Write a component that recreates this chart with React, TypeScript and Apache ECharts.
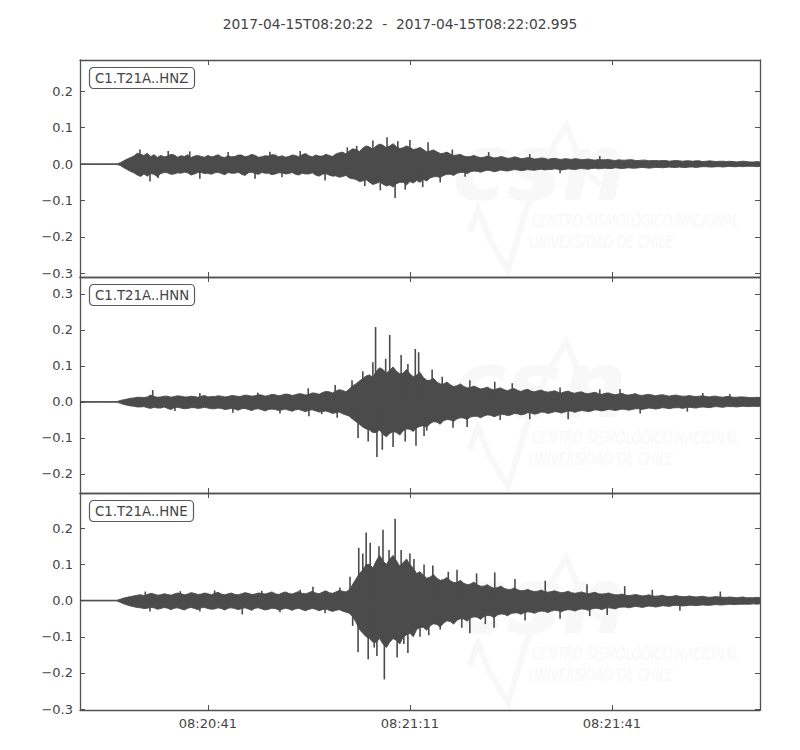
import React, { useEffect, useRef } from "react";
import * as echarts from "echarts";

const TITLE = "2017-04-15T08:20:22  -  2017-04-15T08:22:02.995";
const START_SEC = 8 * 3600 + 20 * 60 + 22;
const DURATION = 100.995;
const SAMPLE_STEP = 0.5; // seconds between envelope readings
const TRACE_NAMES = ["C1.T21A..HNZ", "C1.T21A..HNN", "C1.T21A..HNE"];
const X_TICKS = [19, 49, 79];
const Y_TICKS = [
  [-0.3, -0.2, -0.1, 0, 0.1, 0.2],
  [-0.2, -0.1, 0, 0.1, 0.2, 0.3],
  [-0.3, -0.2, -0.1, 0, 0.1, 0.2],
];
const Y_RANGES = [
  [-0.31, 0.286],
  [-0.253, 0.347],
  [-0.3025, 0.2975],
];

// Envelope of each trace, one reading every 0.5 s from the start (upper / lower edge)
const HNZ_UP = [
  0.001, 0.001, 0.001, 0.001, 0.001, 0.001, 0.001, 0.001, 0.001, 0.001, 0.001, 0.001, 0.004, 0.009, 0.014, 0.018, 0.022, 0.03, 0.027, 0.024,
  0.03, 0.021, 0.026, 0.018, 0.024, 0.02, 0.022, 0.027, 0.025, 0.019, 0.023, 0.021, 0.026, 0.018, 0.022, 0.024, 0.021, 0.019, 0.024, 0.02,
  0.022, 0.026, 0.02, 0.018, 0.023, 0.02, 0.021, 0.025, 0.025, 0.02, 0.022, 0.027, 0.024, 0.019, 0.02, 0.023, 0.022, 0.026, 0.025, 0.02,
  0.023, 0.019, 0.021, 0.025, 0.024, 0.02, 0.026, 0.029, 0.023, 0.02, 0.025, 0.022, 0.022, 0.027, 0.024, 0.021, 0.028, 0.031, 0.033, 0.028,
  0.036, 0.042, 0.04, 0.035, 0.044, 0.05, 0.047, 0.041, 0.05, 0.055, 0.052, 0.045, 0.05, 0.056, 0.048, 0.043, 0.045, 0.05, 0.046, 0.04,
  0.042, 0.046, 0.04, 0.034, 0.036, 0.039, 0.034, 0.029, 0.03, 0.033, 0.028, 0.024, 0.025, 0.027, 0.022, 0.02, 0.021, 0.024, 0.02, 0.018,
  0.019, 0.022, 0.02, 0.017, 0.018, 0.021, 0.019, 0.016, 0.017, 0.02, 0.018, 0.015, 0.016, 0.018, 0.017, 0.014, 0.015, 0.017, 0.016, 0.013,
  0.015, 0.016, 0.014, 0.013, 0.015, 0.014, 0.013, 0.015, 0.014, 0.012, 0.013, 0.014, 0.012, 0.011, 0.013, 0.012, 0.012, 0.013, 0.011, 0.01,
  0.012, 0.011, 0.011, 0.012, 0.012, 0.01, 0.01, 0.011, 0.011, 0.009, 0.01, 0.01, 0.009, 0.01, 0.01, 0.008, 0.009, 0.01, 0.009, 0.008,
  0.009, 0.009, 0.008, 0.009, 0.009, 0.007, 0.008, 0.009, 0.008, 0.007, 0.008, 0.008, 0.007, 0.008, 0.007, 0.006, 0.007, 0.008, 0.007, 0.006,
  0.006, 0.007, 0.006,
];
const HNZ_DN = [
  -0.001, -0.001, -0.001, -0.001, -0.001, -0.001, -0.001, -0.001, -0.001, -0.001, -0.001, -0.001, -0.004, -0.01, -0.015, -0.02, -0.024, -0.03, -0.034, -0.027,
  -0.033, -0.026, -0.028, -0.035, -0.026, -0.023, -0.024, -0.028, -0.027, -0.024, -0.025, -0.022, -0.024, -0.03, -0.027, -0.023, -0.023, -0.026, -0.025, -0.028,
  -0.024, -0.022, -0.026, -0.029, -0.023, -0.025, -0.025, -0.022, -0.028, -0.031, -0.024, -0.022, -0.026, -0.028, -0.023, -0.025, -0.025, -0.029, -0.027, -0.024,
  -0.024, -0.027, -0.026, -0.023, -0.028, -0.03, -0.025, -0.027, -0.027, -0.024, -0.03, -0.033, -0.028, -0.026, -0.03, -0.033, -0.032, -0.036, -0.034, -0.031,
  -0.038, -0.04, -0.042, -0.048, -0.046, -0.043, -0.05, -0.056, -0.053, -0.049, -0.055, -0.06, -0.057, -0.063, -0.054, -0.05, -0.05, -0.057, -0.048, -0.052,
  -0.045, -0.05, -0.042, -0.046, -0.038, -0.035, -0.034, -0.037, -0.031, -0.028, -0.028, -0.031, -0.025, -0.023, -0.023, -0.026, -0.021, -0.019, -0.02, -0.022,
  -0.019, -0.017, -0.018, -0.021, -0.019, -0.016, -0.018, -0.019, -0.017, -0.015, -0.016, -0.018, -0.017, -0.015, -0.016, -0.017, -0.015, -0.014, -0.016, -0.015,
  -0.015, -0.013, -0.014, -0.016, -0.015, -0.013, -0.014, -0.015, -0.013, -0.012, -0.013, -0.014, -0.012, -0.011, -0.013, -0.012, -0.011, -0.012, -0.012, -0.01,
  -0.011, -0.012, -0.011, -0.01, -0.011, -0.011, -0.01, -0.009, -0.01, -0.011, -0.01, -0.009, -0.009, -0.01, -0.009, -0.008, -0.009, -0.009, -0.008, -0.009,
  -0.009, -0.008, -0.008, -0.009, -0.008, -0.007, -0.007, -0.008, -0.008, -0.007, -0.007, -0.008, -0.007, -0.006, -0.007, -0.007, -0.006, -0.007, -0.006, -0.006,
  -0.006, -0.007, -0.006,
];
const HNN_UP = [
  0.001, 0.001, 0.001, 0.001, 0.001, 0.001, 0.001, 0.001, 0.001, 0.001, 0.001, 0.001, 0.004, 0.006, 0.008, 0.01, 0.011, 0.013, 0.013, 0.012,
  0.014, 0.019, 0.015, 0.013, 0.014, 0.016, 0.016, 0.013, 0.015, 0.017, 0.016, 0.014, 0.014, 0.016, 0.015, 0.013, 0.016, 0.018, 0.014, 0.015,
  0.015, 0.017, 0.016, 0.014, 0.015, 0.018, 0.017, 0.015, 0.016, 0.019, 0.018, 0.016, 0.017, 0.02, 0.019, 0.016, 0.018, 0.021, 0.02, 0.017,
  0.019, 0.022, 0.021, 0.018, 0.02, 0.023, 0.022, 0.019, 0.021, 0.025, 0.024, 0.021, 0.026, 0.029, 0.028, 0.025, 0.03, 0.034, 0.032, 0.028,
  0.036, 0.045, 0.05, 0.058, 0.065, 0.072, 0.075, 0.068, 0.085, 0.095, 0.09, 0.08, 0.088, 0.097, 0.085, 0.078, 0.08, 0.09, 0.078, 0.07,
  0.075, 0.082, 0.068, 0.06, 0.06, 0.066, 0.055, 0.05, 0.05, 0.055, 0.048, 0.043, 0.045, 0.05, 0.043, 0.039, 0.04, 0.044, 0.04, 0.036,
  0.038, 0.041, 0.036, 0.033, 0.037, 0.039, 0.034, 0.031, 0.035, 0.037, 0.032, 0.029, 0.033, 0.035, 0.03, 0.028, 0.031, 0.033, 0.029, 0.027,
  0.029, 0.031, 0.027, 0.025, 0.028, 0.03, 0.026, 0.024, 0.027, 0.028, 0.024, 0.023, 0.025, 0.027, 0.023, 0.021, 0.024, 0.025, 0.022, 0.02,
  0.022, 0.024, 0.02, 0.019, 0.021, 0.023, 0.019, 0.018, 0.02, 0.021, 0.019, 0.017, 0.019, 0.02, 0.018, 0.016, 0.018, 0.019, 0.017, 0.016,
  0.016, 0.018, 0.016, 0.015, 0.016, 0.017, 0.015, 0.014, 0.016, 0.016, 0.014, 0.013, 0.015, 0.015, 0.013, 0.013, 0.014, 0.014, 0.013, 0.012,
  0.012, 0.013, 0.012,
];
const HNN_DN = [
  -0.001, -0.001, -0.001, -0.001, -0.001, -0.001, -0.001, -0.001, -0.001, -0.001, -0.001, -0.001, -0.004, -0.007, -0.009, -0.011, -0.012, -0.014, -0.014, -0.013,
  -0.016, -0.018, -0.015, -0.017, -0.017, -0.014, -0.018, -0.021, -0.016, -0.015, -0.017, -0.019, -0.018, -0.016, -0.016, -0.018, -0.017, -0.015, -0.017, -0.019,
  -0.019, -0.017, -0.018, -0.021, -0.02, -0.018, -0.02, -0.023, -0.019, -0.018, -0.021, -0.024, -0.02, -0.019, -0.022, -0.025, -0.021, -0.02, -0.021, -0.024,
  -0.022, -0.02, -0.023, -0.026, -0.022, -0.021, -0.024, -0.027, -0.023, -0.022, -0.025, -0.028, -0.027, -0.025, -0.028, -0.032, -0.03, -0.028, -0.033, -0.036,
  -0.04, -0.048, -0.055, -0.062, -0.07, -0.075, -0.078, -0.085, -0.085, -0.078, -0.09, -0.097, -0.088, -0.082, -0.085, -0.092, -0.08, -0.075, -0.076, -0.082,
  -0.072, -0.068, -0.066, -0.07, -0.06, -0.055, -0.056, -0.062, -0.052, -0.049, -0.05, -0.054, -0.047, -0.044, -0.045, -0.049, -0.042, -0.04, -0.04, -0.044,
  -0.039, -0.036, -0.037, -0.041, -0.038, -0.034, -0.035, -0.038, -0.036, -0.032, -0.033, -0.036, -0.034, -0.03, -0.031, -0.034, -0.032, -0.028, -0.029, -0.032,
  -0.03, -0.027, -0.028, -0.031, -0.028, -0.025, -0.026, -0.029, -0.026, -0.024, -0.025, -0.027, -0.025, -0.022, -0.023, -0.025, -0.023, -0.021, -0.022, -0.024,
  -0.022, -0.02, -0.021, -0.023, -0.021, -0.019, -0.019, -0.021, -0.019, -0.017, -0.018, -0.02, -0.018, -0.016, -0.017, -0.019, -0.017, -0.016, -0.016, -0.018,
  -0.016, -0.015, -0.016, -0.017, -0.015, -0.014, -0.015, -0.016, -0.014, -0.013, -0.014, -0.015, -0.013, -0.013, -0.013, -0.014, -0.013, -0.012, -0.013, -0.013,
  -0.012, -0.013, -0.012,
];
const HNE_UP = [
  0.001, 0.001, 0.001, 0.001, 0.001, 0.001, 0.001, 0.001, 0.001, 0.001, 0.001, 0.001, 0.004, 0.007, 0.009, 0.011, 0.013, 0.015, 0.016, 0.014,
  0.017, 0.02, 0.018, 0.015, 0.016, 0.019, 0.017, 0.015, 0.018, 0.021, 0.019, 0.016, 0.018, 0.022, 0.02, 0.017, 0.018, 0.021, 0.019, 0.016,
  0.02, 0.023, 0.018, 0.016, 0.019, 0.021, 0.017, 0.016, 0.019, 0.022, 0.02, 0.017, 0.018, 0.021, 0.02, 0.018, 0.021, 0.024, 0.019, 0.017,
  0.021, 0.024, 0.02, 0.018, 0.022, 0.025, 0.02, 0.019, 0.022, 0.026, 0.021, 0.019, 0.023, 0.027, 0.022, 0.02, 0.024, 0.028, 0.026, 0.024,
  0.03, 0.045, 0.06, 0.075, 0.085, 0.1, 0.1, 0.09, 0.11, 0.125, 0.11, 0.1, 0.115, 0.125, 0.11, 0.095, 0.105, 0.115, 0.1, 0.09,
  0.075, 0.08, 0.07, 0.062, 0.065, 0.072, 0.062, 0.056, 0.058, 0.064, 0.055, 0.05, 0.05, 0.056, 0.048, 0.044, 0.046, 0.051, 0.044, 0.04,
  0.04, 0.044, 0.038, 0.034, 0.036, 0.04, 0.034, 0.031, 0.031, 0.035, 0.03, 0.027, 0.028, 0.031, 0.027, 0.025, 0.026, 0.029, 0.025, 0.023,
  0.025, 0.027, 0.024, 0.022, 0.023, 0.026, 0.022, 0.02, 0.022, 0.024, 0.021, 0.019, 0.021, 0.023, 0.019, 0.018, 0.019, 0.021, 0.018, 0.016,
  0.016, 0.018, 0.015, 0.014, 0.015, 0.017, 0.015, 0.013, 0.014, 0.016, 0.013, 0.012, 0.013, 0.015, 0.012, 0.011, 0.012, 0.014, 0.012, 0.011,
  0.011, 0.013, 0.011, 0.01, 0.011, 0.012, 0.01, 0.009, 0.01, 0.011, 0.01, 0.009, 0.009, 0.01, 0.009, 0.008, 0.009, 0.01, 0.008, 0.008,
  0.008, 0.009, 0.008,
];
const HNE_DN = [
  -0.001, -0.001, -0.001, -0.001, -0.001, -0.001, -0.001, -0.001, -0.001, -0.001, -0.001, -0.001, -0.005, -0.009, -0.012, -0.015, -0.017, -0.019, -0.02, -0.022,
  -0.021, -0.019, -0.02, -0.024, -0.022, -0.019, -0.021, -0.025, -0.021, -0.02, -0.023, -0.026, -0.021, -0.019, -0.022, -0.025, -0.02, -0.019, -0.022, -0.024,
  -0.023, -0.02, -0.022, -0.026, -0.021, -0.02, -0.022, -0.025, -0.022, -0.02, -0.023, -0.027, -0.021, -0.02, -0.023, -0.026, -0.024, -0.021, -0.022, -0.026,
  -0.024, -0.021, -0.023, -0.027, -0.023, -0.021, -0.025, -0.028, -0.024, -0.022, -0.024, -0.028, -0.025, -0.023, -0.027, -0.03, -0.027, -0.025, -0.029, -0.032,
  -0.035, -0.045, -0.06, -0.08, -0.09, -0.1, -0.105, -0.115, -0.115, -0.105, -0.12, -0.13, -0.115, -0.105, -0.11, -0.12, -0.1, -0.095, -0.09, -0.1,
  -0.08, -0.074, -0.074, -0.082, -0.07, -0.064, -0.066, -0.073, -0.062, -0.056, -0.058, -0.065, -0.054, -0.05, -0.051, -0.057, -0.048, -0.045, -0.046, -0.052,
  -0.044, -0.041, -0.042, -0.047, -0.04, -0.037, -0.038, -0.042, -0.036, -0.034, -0.034, -0.038, -0.033, -0.031, -0.032, -0.035, -0.031, -0.029, -0.03, -0.033,
  -0.029, -0.027, -0.028, -0.031, -0.027, -0.025, -0.026, -0.029, -0.025, -0.023, -0.024, -0.027, -0.023, -0.021, -0.022, -0.025, -0.021, -0.02, -0.021, -0.023,
  -0.019, -0.018, -0.018, -0.02, -0.018, -0.016, -0.017, -0.019, -0.017, -0.015, -0.016, -0.018, -0.016, -0.014, -0.015, -0.016, -0.014, -0.013, -0.014, -0.015,
  -0.014, -0.013, -0.013, -0.014, -0.013, -0.012, -0.013, -0.013, -0.012, -0.011, -0.012, -0.012, -0.011, -0.01, -0.011, -0.011, -0.01, -0.01, -0.01, -0.01,
  -0.009, -0.01, -0.009,
];

// Individual peaks standing out of the envelope: [seconds from start, value]
const HNZ_PEAKS = [
  [8.9, 0.04], [10.4, -0.048], [11.6, -0.038], [13.1, 0.036], [16.3, 0.035],
  [17.8, -0.04], [22.0, 0.033], [26.0, -0.04], [28.2, 0.034], [30.0, -0.036],
  [32.7, 0.036], [36.4, -0.045], [39.7, 0.046], [41.1, 0.05], [42.3, -0.06],
  [43.5, 0.065], [44.6, -0.072], [45.6, 0.074], [46.8, -0.093], [47.2, 0.063],
  [48.3, -0.07], [49.0, 0.066], [50.9, -0.063], [51.7, 0.06], [53.5, -0.05],
  [55.3, 0.04], [57.2, -0.035], [60.7, 0.033], [66.8, 0.028], [71.3, -0.025],
  [77.2, 0.022],
];
const HNN_PEAKS = [
  [10.8, 0.033], [14.1, -0.025], [17.8, 0.025], [22.7, -0.03], [26.4, 0.026],
  [29.7, -0.032], [33.9, 0.038], [34.0, -0.04], [35.9, -0.034], [37.9, 0.047],
  [38.2, -0.044], [40.4, 0.06], [41.3, -0.1], [42.0, 0.085], [42.8, -0.11],
  [43.5, 0.11], [43.9, 0.208], [44.1, -0.153], [44.9, -0.133], [45.4, 0.12],
  [46.0, 0.186], [46.5, -0.125], [47.7, 0.13], [48.3, -0.11], [48.7, 0.105],
  [49.8, 0.147], [49.9, -0.122], [50.3, 0.138], [51.1, -0.095], [51.5, -0.08],
  [52.3, 0.09], [53.8, 0.07], [55.4, -0.072], [57.5, -0.07], [57.9, 0.06],
  [61.6, 0.056], [62.4, -0.05], [64.2, 0.052], [66.8, -0.048], [71.3, 0.04],
  [72.5, -0.048], [77.2, 0.035], [80.2, 0.036], [83.2, -0.032], [90.2, -0.027],
  [92.5, 0.025], [96.5, 0.022],
];
const HNE_PEAKS = [
  [9.7, 0.025], [10.4, -0.03], [14.9, 0.026], [17.8, -0.03], [20.0, 0.028],
  [24.1, -0.038], [27.0, 0.027], [29.7, -0.032], [32.7, 0.03], [34.6, 0.038],
  [36.4, -0.035], [38.6, 0.036], [40.1, 0.066], [40.5, -0.07], [41.3, -0.143],
  [41.4, 0.146], [42.0, 0.13], [42.5, 0.188], [42.8, -0.162], [43.1, 0.16],
  [43.7, -0.13], [44.1, -0.153], [44.4, 0.15], [45.0, 0.196], [45.2, -0.218],
  [45.9, 0.14], [46.8, 0.226], [47.1, -0.157], [47.7, 0.14], [48.1, -0.12],
  [48.7, -0.145], [49.0, 0.13], [49.6, 0.115], [50.5, -0.1], [51.1, 0.1],
  [51.8, -0.096], [52.4, 0.097], [53.5, -0.08], [54.7, 0.08], [56.0, 0.085],
  [56.7, -0.075], [57.9, -0.09], [58.9, 0.075], [60.2, -0.065], [61.5, -0.075],
  [61.6, 0.078], [64.6, 0.06], [66.1, -0.055], [69.1, 0.055], [71.3, -0.05],
  [75.3, 0.045], [75.7, -0.043], [78.3, -0.04], [80.9, 0.04], [85.0, 0.03],
  [89.1, -0.028], [95.1, 0.025],
];

const UPPERS = [HNZ_UP, HNN_UP, HNE_UP];
const LOWERS = [HNZ_DN, HNN_DN, HNE_DN];
const PEAKS = [HNZ_PEAKS, HNN_PEAKS, HNE_PEAKS];

const FONT = "DejaVu Sans";
const TRACE = "#4b4b4b";
const FRAME = "#505050";
const TEXT = "#444444";
const WATERMARK = "#f8f8f8";

const GRID_LEFT = 80;
const GRID_WIDTH = 680;
const GRID_TOPS = [60, 277, 493];
const GRID_HEIGHTS = [217, 216, 217];

const pad2 = (n: number) => (n < 10 ? "0" + n : "" + n);
const fmtTime = (v: number) => {
  const s = Math.round(START_SEC + v);
  return pad2(Math.floor(s / 3600)) + ":" + pad2(Math.floor((s % 3600) / 60)) + ":" + pad2(s % 60);
};
const fmtVal = (v: number) => {
  const s = (Math.abs(v) < 1e-9 ? 0 : v).toFixed(1);
  return s.charAt(0) === "-" ? "\u2212" + s.slice(1) : s;
};

function buildOption() {
  const grid: any[] = [];
  const xAxis: any[] = [];
  const yAxis: any[] = [];
  const series: any[] = [];
  const titles: any[] = [
    {
      text: TITLE,
      left: "center",
      top: 12,
      textStyle: { fontSize: 13.8, fontWeight: "normal", color: TEXT, fontFamily: FONT },
    },
  ];
  const graphics: any[] = [];

  for (let i = 0; i < 3; i++) {
    const top = GRID_TOPS[i];
    grid.push({ left: GRID_LEFT, top, width: GRID_WIDTH, height: GRID_HEIGHTS[i], containLabel: false });
    const lineStyle = { color: FRAME, width: 1.3 };
    const xTick = { show: true, inside: true, length: 5, customValues: X_TICKS, lineStyle: { color: FRAME, width: 1 } };
    xAxis.push({
      type: "value",
      gridIndex: i,
      position: "bottom",
      min: 0,
      max: DURATION,
      axisLine: { show: true, onZero: false, lineStyle },
      axisTick: xTick,
      axisLabel: {
        show: i === 2,
        customValues: X_TICKS,
        formatter: fmtTime,
        margin: 7,
        fontSize: 13,
        color: TEXT,
        fontFamily: FONT,
      },
      splitLine: { show: false },
    });
    xAxis.push({
      type: "value",
      gridIndex: i,
      position: "top",
      min: 0,
      max: DURATION,
      axisLine: { show: true, onZero: false, lineStyle },
      axisTick: xTick,
      axisLabel: { show: false },
      splitLine: { show: false },
    });
    const yTick = { show: true, inside: true, length: 5, customValues: Y_TICKS[i], lineStyle: { color: FRAME, width: 1 } };
    yAxis.push({
      type: "value",
      gridIndex: i,
      position: "left",
      min: Y_RANGES[i][0],
      max: Y_RANGES[i][1],
      axisLine: { show: true, onZero: false, lineStyle },
      axisTick: yTick,
      axisLabel: {
        customValues: Y_TICKS[i],
        formatter: fmtVal,
        margin: 7,
        fontSize: 13,
        color: TEXT,
        fontFamily: FONT,
      },
      splitLine: { show: false },
    });
    yAxis.push({
      type: "value",
      gridIndex: i,
      position: "right",
      min: Y_RANGES[i][0],
      max: Y_RANGES[i][1],
      axisLine: { show: true, onZero: false, lineStyle },
      axisTick: yTick,
      axisLabel: { show: false },
      splitLine: { show: false },
    });

    const up = UPPERS[i];
    const dn = LOWERS[i];
    const times = up.map((_, k) => Math.min(k * SAMPLE_STEP, DURATION));
    series.push({
      type: "custom",
      name: TRACE_NAMES[i],
      xAxisIndex: 2 * i,
      yAxisIndex: 2 * i,
      silent: true,
      clip: true,
      z: 3,
      data: [[0, 0]],
      renderItem: (params: any, api: any) => {
        const pts: number[][] = [];
        for (let k = 0; k < up.length; k++) pts.push(api.coord([times[k], up[k]]));
        for (let k = dn.length - 1; k >= 0; k--) pts.push(api.coord([times[k], dn[k]]));
        return {
          type: "polygon",
          shape: { points: pts },
          style: { fill: TRACE, stroke: TRACE, lineWidth: 0.9, lineJoin: "miter" },
        };
      },
    });
    series.push({
      type: "custom",
      name: TRACE_NAMES[i] + " peaks",
      xAxisIndex: 2 * i,
      yAxisIndex: 2 * i,
      silent: true,
      z: 4,
      data: PEAKS[i],
      encode: { x: 0, y: 1 },
      renderItem: (params: any, api: any) => {
        const p0 = api.coord([api.value(0), 0]);
        const p1 = api.coord([api.value(0), api.value(1)]);
        return {
          type: "line",
          shape: { x1: p0[0], y1: p0[1], x2: p1[0], y2: p1[1] },
          style: { stroke: TRACE, lineWidth: 1.6 },
        };
      },
    });

    titles.push({
      text: TRACE_NAMES[i],
      left: 89,
      top: top + 7,
      padding: [5, 6, 4, 6],
      borderColor: "#5a5a5a",
      borderWidth: 1.2,
      borderRadius: 4,
      backgroundColor: "#fff",
      textStyle: { fontSize: 13.3, fontWeight: "normal", color: TEXT, fontFamily: FONT },
    });

    // faint institutional watermark
    graphics.push({
      type: "group",
      silent: true,
      z: 0,
      children: [
        {
          type: "text",
          x: 452,
          y: top + 62,
          style: { text: "csn", font: "italic bold 92px 'DejaVu Sans'", fill: WATERMARK },
        },
        {
          type: "polyline",
          shape: {
            points: [
              [470, top + 172],
              [478, top + 150],
              [490, top + 180],
              [508, top + 210],
              [526, top + 150],
              [548, top + 95],
              [566, top + 65],
              [585, top + 110],
              [600, top + 125],
            ],
          },
          style: { stroke: WATERMARK, lineWidth: 6, fill: null },
        },
        {
          type: "text",
          x: 532,
          y: top + 152,
          scaleX: 0.75,
          style: { text: "CENTRO SISMOLÓGICO NACIONAL", font: "italic 18px 'DejaVu Sans Condensed'", fill: WATERMARK },
        },
        {
          type: "text",
          x: 529,
          y: top + 173,
          scaleX: 0.75,
          style: { text: "UNIVERSIDAD DE CHILE", font: "italic 18px 'DejaVu Sans Condensed'", fill: WATERMARK },
        },
      ],
    });
  }

  return {
    animation: false,
    backgroundColor: "#ffffff",
    title: titles,
    grid,
    xAxis,
    yAxis,
    series,
    graphic: graphics,
  };
}

export default function App() {
  const ref = useRef<HTMLDivElement>(null);
  useEffect(() => {
    if (!ref.current) return;
    const chart = echarts.init(ref.current, undefined, { renderer: "svg" });
    chart.setOption(buildOption() as any);
    return () => chart.dispose();
  }, []);
  return (
    <div
      ref={ref}
      style={{ position: "absolute", left: 0, top: 0, width: 800, height: 750, background: "#fff" }}
    />
  );
}
